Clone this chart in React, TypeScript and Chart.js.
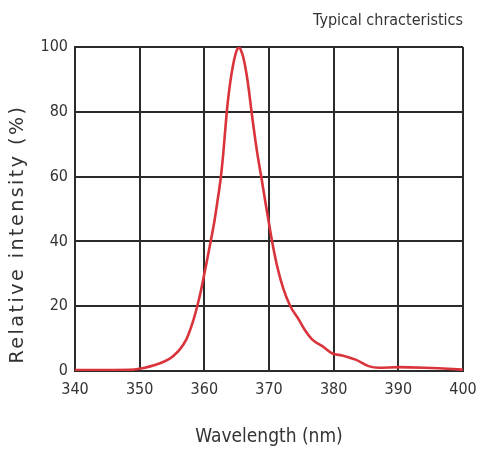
import React, { useEffect, useRef } from "react";
import { Chart, registerables } from "chart.js";

Chart.register(...registerables);

const wavelengths = [
  340, 345, 348.5, 350, 352.6, 355.2, 357.2, 358.2, 358.9, 359.5, 360, 360.5, 361.03, 361.5, 362,
  362.5, 362.9, 363.3, 363.6, 364, 364.4, 364.8, 365.1, 365.36, 365.7, 366, 366.5, 366.9, 367.3,
  367.7, 368.05, 368.45, 368.84, 369.45, 370, 370.48, 371.3, 372.2, 373.3, 374.6, 375.6, 376.7,
  378.3, 379.8, 381.3, 383.4, 385.4, 387, 390, 394.1, 399.2, 400,
];
const intensities = [
  0.3, 0.3, 0.35, 0.7, 2.0, 4.6, 9.7, 15, 20, 25, 30, 35, 40.5, 45.5, 52,
  59, 66.5, 76, 82.5, 89, 94, 97.6, 99.4, 100, 98.8, 97, 92, 86.5, 80,
  74, 69, 64, 59.5, 52, 45.5, 40, 32, 25.5, 20, 15.9, 12.5, 9.7,
  7.6, 5.4, 4.8, 3.5, 1.5, 1.0, 1.2, 1.0, 0.5, 0.4,
];
const xTicks = [340, 350, 360, 370, 380, 390, 400];
const yTicks = [0, 20, 40, 60, 80, 100];

const titleText = "Typical chracteristics";
const xTitle = "Wavelength (nm)";
const yTitle = "Relative intensity (%)";

const NARROW = "'DejaVu Sans Condensed', 'Liberation Sans Narrow', sans-serif";

const yTitlePlugin = {
  id: "yTitlePlugin",
  afterDraw(chart: any) {
    const { ctx, chartArea } = chart;
    ctx.save();
    ctx.font = "19px 'DejaVu Sans', sans-serif";
    ctx.fillStyle = "#333";
    (ctx as any).letterSpacing = "2.5px";
    ctx.textAlign = "center";
    ctx.textBaseline = "middle";
    ctx.translate(18, (chartArea.top + chartArea.bottom) / 2 + 25);
    ctx.rotate(-Math.PI / 2);
    ctx.fillText(yTitle, 0, 0);
    ctx.restore();
  },
};

export default function App() {
  const ref = useRef<HTMLCanvasElement | null>(null);
  useEffect(() => {
    if (!ref.current) return;
    const chart = new Chart(ref.current, {
      type: "line",
      data: {
        datasets: [
          {
            data: wavelengths.map((w, i) => ({ x: w, y: intensities[i] })),
            borderColor: "#d9333b",
            borderWidth: 2.6,
            pointRadius: 0,
            cubicInterpolationMode: "monotone",
            fill: false,
          },
        ],
      },
      plugins: [yTitlePlugin],
      options: {
        animation: false,
        responsive: true,
        maintainAspectRatio: false,
        layout: { padding: { top: 0, right: 0, left: 0, bottom: 0 } },
        plugins: {
          legend: { display: false },
          tooltip: { enabled: false },
          title: {
            display: true,
            text: titleText,
            align: "end",
            fullSize: false,
            color: "#333",
            font: { family: NARROW, size: 16, weight: "normal", lineHeight: 1.2 },
            padding: { top: 11, bottom: 16.8 },
          },
        },
        scales: {
          x: {
            type: "linear",
            min: 340,
            max: 400,
            afterBuildTicks: (axis: any) => {
              axis.ticks = xTicks.map((v) => ({ value: v }));
            },
            afterFit: (axis: any) => {
              axis.height = 85;
              axis.paddingRight = 14;
              axis.paddingLeft = 0;
            },
            ticks: {
              color: "#333",
              font: { family: NARROW, size: 16 },
              padding: 9,
              maxRotation: 0,
            },
            grid: { color: "#2b2b2b", lineWidth: 2, drawTicks: false },
            border: { display: true, color: "#2b2b2b", width: 2 },
            title: {
              display: true,
              text: xTitle,
              color: "#333",
              font: { family: NARROW, size: 19, lineHeight: 1.2 },
              padding: { top: 0, bottom: 8 },
            },
          },
          y: {
            min: 0,
            max: 100,
            afterBuildTicks: (axis: any) => {
              axis.ticks = yTicks.map((v) => ({ value: v }));
            },
            afterFit: (axis: any) => {
              axis.width = 75;
            },
            ticks: {
              color: "#333",
              font: { family: NARROW, size: 16 },
              padding: 7,
            },
            grid: { color: "#2b2b2b", lineWidth: 2, drawTicks: false },
            border: { display: true, color: "#2b2b2b", width: 2 },
          },
        },
      },
    });
    return () => chart.destroy();
  }, []);
  return (
    <div style={{ position: "absolute", left: 0, top: 0, width: 477, height: 456, background: "#fff" }}>
      <canvas ref={ref} />
    </div>
  );
}
